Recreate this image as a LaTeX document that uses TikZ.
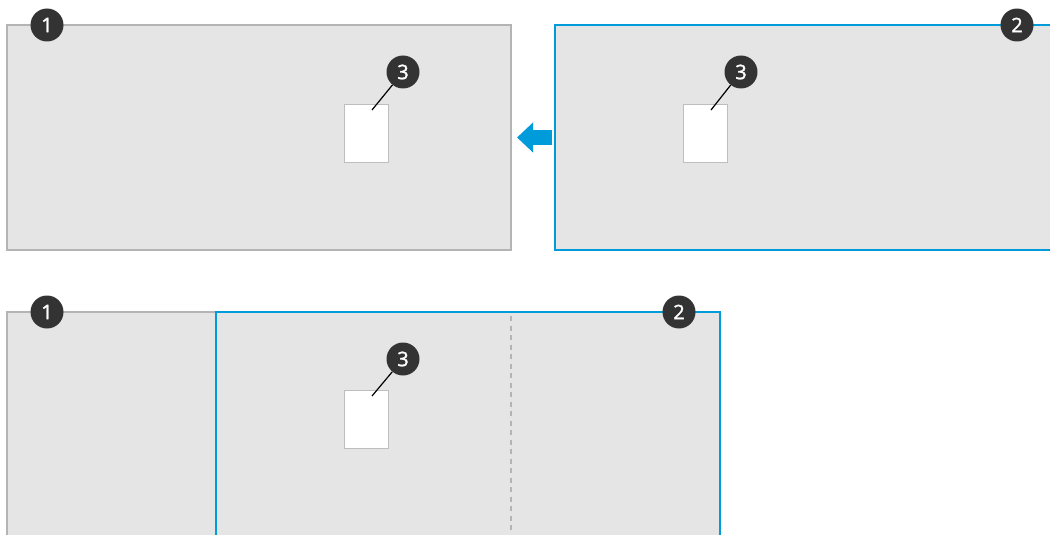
\documentclass[tikz,border=0pt]{standalone}
\usepackage{fontspec}
\setmainfont{Open Sans}
\newfontfamily\badgefont[FakeBold=1.6]{Open Sans}
\usetikzlibrary{arrows.meta}
\definecolor{frameblue}{RGB}{0,155,219}
\definecolor{framegray}{RGB}{180,180,180}
\definecolor{sheetgray}{RGB}{190,190,190}
\definecolor{panelfill}{RGB}{229,229,229}
\definecolor{badge}{RGB}{51,51,51}
\begin{document}
\begin{tikzpicture}[x=1pt,y=-1pt,
    every node/.style={inner sep=0pt},
    callout/.style={circle, fill=badge, text=white, minimum size=33pt, font=\badgefont\fontsize{20}{20}\selectfont},
    sheet/.style={draw=sheetgray, fill=white, line width=1pt, minimum width=44pt, minimum height=58pt},
    oldpanel/.style={draw=framegray, fill=panelfill, line width=2.2pt},
    newpanel/.style={draw=frameblue, fill=panelfill, line width=2.5pt}]
    \useasboundingbox (0,0) rectangle (1050,535);
    \clip (0,0) rectangle (1050,535);
    % top: two screens, before moving
    \draw[oldpanel] (7,25) rectangle (511,250);
    \draw[newpanel] (555,25) rectangle (1070,250);
    \node [sheet] (SheetA) at (366,133) {};
    \node [sheet] (SheetB) at (705,133) {};
    \coordinate (PinA) at (372,110);
    \coordinate (PinB) at (711,110);
    \node [callout] (OneTop) at (47,25) {1};
    \node [callout] (TwoTop) at (1017,25) {2};
    \node [callout] (ThreeA) at (403,72) {3};
    \node [callout] (ThreeB) at (741,72) {3};
    \path[draw, line width=1.2pt] (PinA) -- (ThreeA);
    \path[draw, line width=1.2pt] (PinB) -- (ThreeB);
    \coordinate (MoveFrom) at (552,137.5);
    \coordinate (MoveTo) at (517,137.5);
    \path[draw, frameblue, line width=15pt, -{Triangle[length=16pt,width=29pt]}] (MoveFrom) -- (MoveTo);
    % bottom: screens overlapping
    \draw[oldpanel] (7,312) rectangle (511,560);
    \draw[newpanel] (216,312) rectangle (720,560);
    \coordinate (SeamTop) at (511,316);
    \coordinate (SeamEnd) at (511,540);
    \path[draw, framegray, line width=2pt, dash pattern=on 5pt off 4.5pt] (SeamTop) -- (SeamEnd);
    \node [sheet] (SheetC) at (366,419) {};
    \coordinate (PinC) at (372,396);
    \node [callout] (OneBot) at (47,312) {1};
    \node [callout] (TwoBot) at (679,312) {2};
    \node [callout] (ThreeC) at (403,359) {3};
    \path[draw, line width=1.2pt] (PinC) -- (ThreeC);
\end{tikzpicture}
\end{document}
